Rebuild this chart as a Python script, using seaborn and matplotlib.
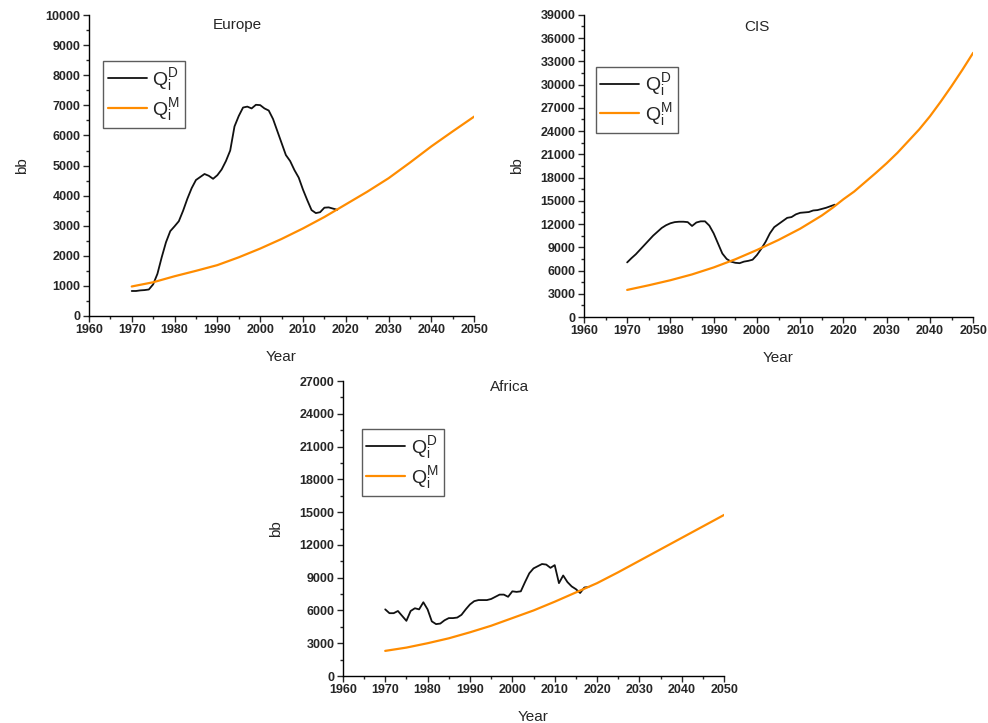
import numpy as np
import pandas as pd
import matplotlib
matplotlib.use("Agg")
import matplotlib.pyplot as plt
import seaborn as sns
from matplotlib.ticker import MultipleLocator, AutoMinorLocator

# ------ DATA ------ #
years_d = list(range(1970, 2019))
years_m = list(range(1970, 2051, 5))

europe_d = [830, 830, 850, 860, 880, 1050, 1400, 1950, 2450, 2820,
            2980, 3150, 3500, 3900, 4250, 4520, 4620, 4720, 4660, 4560,
            4680, 4870, 5150, 5500, 6300, 6650, 6930, 6960, 6900, 7020,
            7010, 6900, 6830, 6550, 6150, 5750, 5350, 5150, 4850, 4600,
            4200, 3850, 3520, 3420, 3450, 3600, 3610, 3570, 3530]
europe_m = [980, 1120, 1320, 1500, 1690, 1950, 2240, 2560, 2910,
            3290, 3710, 4130, 4580, 5100, 5640, 6140, 6630]

cis_d = [7050, 7600, 8100, 8700, 9300, 9900, 10500, 11000, 11500, 11850,
         12100, 12250, 12300, 12300, 12250, 11750, 12200, 12350, 12350, 11800,
         10800, 9500, 8200, 7500, 7150, 7000, 6950, 7150, 7250, 7400,
         8000, 8800, 9700, 10800, 11600, 12000, 12400, 12800, 12900, 13250,
         13450, 13500, 13550, 13750, 13800, 13950, 14100, 14300, 14500]
cis_m_years = [1970, 1975, 1980, 1985, 1990, 1995, 2000, 2005, 2010, 2015,
               2017.5, 2020, 2022.5, 2025, 2027.5, 2030, 2032.5, 2035,
               2037.5, 2040, 2042.5, 2045, 2047.5, 2050]
cis_m = [3500, 4100, 4750, 5500, 6400, 7450, 8650, 9950, 11400, 13100,
         14100, 15200, 16200, 17400, 18600, 19850, 21200, 22700,
         24200, 25900, 27800, 29800, 31900, 34100]

africa_d = [6100, 5750, 5750, 5950, 5500, 5050, 5950, 6200, 6100, 6750,
            6100, 5000, 4750, 4800, 5100, 5300, 5300, 5350, 5600, 6100,
            6550, 6850, 6950, 6950, 6950, 7050, 7250, 7450, 7450, 7250,
            7750, 7700, 7750, 8600, 9400, 9850, 10050, 10250, 10200, 9900,
            10150, 8500, 9200, 8600, 8200, 7950, 7600, 8100, 8150]
africa_m = [2300, 2600, 3000, 3450, 4000, 4600, 5300, 6000, 6800,
            7650, 8500, 9500, 10550, 11600, 12650, 13700, 14750]

# ------ STYLE ------ #
sns.set_style("ticks")
plt.rcParams['font.family'] = ['Liberation Sans', 'DejaVu Sans']
plt.rcParams['mathtext.fontset'] = 'custom'
plt.rcParams['mathtext.rm'] = 'Liberation Sans'
plt.rcParams['mathtext.it'] = 'Liberation Sans'

fig = plt.figure(figsize=(9.88, 7.23), dpi=100)


def panel(rect, name, d, m_years, m, ymax, ystep, title_xy, leg_xy):
    ax = fig.add_axes(rect)
    sns.lineplot(x=years_d, y=d, ax=ax, color="#111111", lw=1.3,
                 label=r"$\mathrm{Q}_\mathrm{i}^\mathrm{D}$")
    sns.lineplot(x=m_years, y=m, ax=ax, color="#ff8c00", lw=1.6,
                 label=r"$\mathrm{Q}_\mathrm{i}^\mathrm{M}$")
    ax.set_xlim(1960, 2050)
    ax.set_ylim(0, ymax)
    ax.xaxis.set_major_locator(MultipleLocator(10))
    ax.xaxis.set_minor_locator(AutoMinorLocator(2))
    ax.yaxis.set_major_locator(MultipleLocator(ystep))
    ax.yaxis.set_minor_locator(AutoMinorLocator(2))
    ax.tick_params(which='major', length=4, width=1, labelsize=9, pad=2)
    ax.tick_params(which='minor', length=2, width=1)
    for lab in ax.get_xticklabels() + ax.get_yticklabels():
        lab.set_fontweight('bold')
    for s in ['left', 'bottom']:
        ax.spines[s].set_linewidth(1.0)
        ax.spines[s].set_color('black')
    sns.despine(ax=ax)
    ax.set_xlabel("Year", fontsize=11, labelpad=10)
    ax.set_ylabel("bb", fontsize=11, labelpad=12)
    ax.text(title_xy[0], title_xy[1], name, transform=ax.transAxes,
            ha='center', va='center', fontsize=11)
    leg = ax.legend(loc='upper left', bbox_to_anchor=leg_xy, fontsize=14,
                    frameon=True, fancybox=False, handlelength=2.0,
                    handletextpad=0.3, borderpad=0.25, labelspacing=0.15,
                    borderaxespad=0)
    leg.get_frame().set_edgecolor('#333333')
    leg.get_frame().set_linewidth(1.0)
    return ax


panel([0.090, 0.563, 0.390, 0.416], "Europe", europe_d, years_m, europe_m,
      10000, 1000, (0.384, 0.967), (0.036, 0.847))
panel([0.591, 0.5615, 0.394, 0.418], "CIS", cis_d, cis_m_years, cis_m,
      39000, 3000, (0.445, 0.96), (0.030, 0.829))
panel([0.347, 0.065, 0.386, 0.408], "Africa", africa_d, years_m, africa_m,
      27000, 3000, (0.438, 0.98), (0.049, 0.837))

fig.savefig("out.png", dpi=100)
